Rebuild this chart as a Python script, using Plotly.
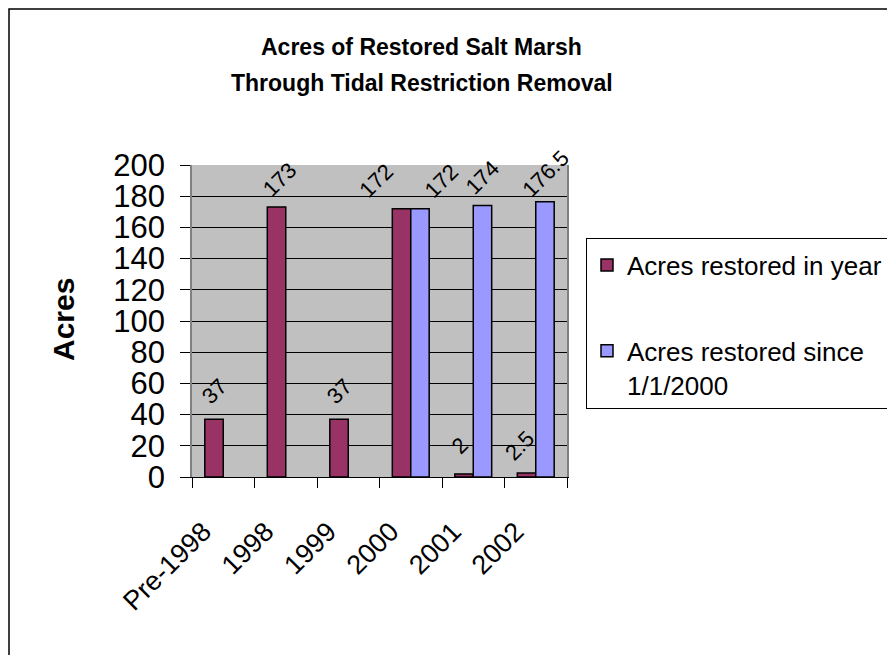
import plotly.graph_objects as go

categories = ["Pre-1998", "1998", "1999", "2000", "2001", "2002"]
in_year = [37, 173, 37, 172, 2, 2.5]
since_2000 = [None, None, None, 172, 174, 176.5]
in_year_labels = ["37", "173", "37", "172", "2", "2.5"]
since_labels = ["", "", "", "172", "174", "176.5"]
y_ticks = [0, 20, 40, 60, 80, 100, 120, 140, 160, 180, 200]

# label nudges (pixels) to mimic the original label placement
nudge_in_year = [0, 3, 0, -25, -4, -7]
nudge_since = [0, 0, 0, 22, 0, 1]

FONT = "Liberation Sans, Arial, sans-serif"
OFF = 8  # page body margin
W, H = 895 - OFF, 655 - OFF
# plot area in screen pixels of the reference
SL, SR, ST, SB = 192, 567, 165, 477
L, R, T, B = SL - OFF, SR - OFF, ST - OFF, SB - OFF


def px(x):
    """screen x -> paper x"""
    return (x - OFF - L) / (R - L)


def py(y):
    """screen y -> paper y"""
    return (B - (y - OFF)) / (B - T)


fig = go.Figure()
fig.add_trace(go.Bar(
    x=categories, y=in_year, name="Acres restored in year",
    marker=dict(color="#993366", line=dict(color="black", width=1.5)),
    legendgroup="a",
))
fig.add_trace(go.Bar(
    x=categories, y=since_2000, name="Acres restored since<br>1/1/2000",
    marker=dict(color="#9999FF", line=dict(color="black", width=1.5)),
    legendgroup="b",
))

annotations = [
    dict(text="<b>Acres of Restored Salt Marsh</b>", xref="paper", yref="paper",
         x=px(421), y=py(47), xanchor="center", yanchor="middle",
         showarrow=False, font=dict(family=FONT, size=23, color="black")),
    dict(text="<b>Through Tidal Restriction Removal</b>", xref="paper", yref="paper",
         x=px(422), y=py(83), xanchor="center", yanchor="middle",
         showarrow=False, font=dict(family=FONT, size=23, color="black")),
    dict(text="<b>Acres</b>", xref="paper", yref="paper",
         x=px(63), y=py(320), xanchor="center", yanchor="middle",
         textangle=-90, showarrow=False,
         font=dict(family=FONT, size=30, color="black")),
]

HALF = 9.2  # half bar width in px (grouped offset)
for vals, labels, nudges, side in (
    (in_year, in_year_labels, nudge_in_year, -1),
    (since_2000, since_labels, nudge_since, 1),
):
    for i, (v, lab, n) in enumerate(zip(vals, labels, nudges)):
        if v is None or not lab:
            continue
        annotations.append(dict(
            x=i, y=v, xref="x", yref="y", text=lab, showarrow=False,
            textangle=-45, xanchor="center", yanchor="middle",
            xshift=side * HALF + n, yshift=28,
            font=dict(family=FONT, size=22, color="black"),
        ))

fig.update_layout(
    width=W, height=H,
    margin=dict(l=L, r=W - R, t=T, b=H - B, pad=0, autoexpand=False),
    paper_bgcolor="white", plot_bgcolor="#C0C0C0",
    barmode="group", bargap=0.41, bargroupgap=0,
    font=dict(family=FONT, color="black"),
    showlegend=True,
    legend=dict(
        x=px(586), y=py(238), xanchor="left", yanchor="top",
        bgcolor="white", bordercolor="black", borderwidth=1,
        font=dict(family=FONT, size=26, color="black"),
        title=dict(text=" ", font=dict(size=2)),
        traceorder="grouped", tracegroupgap=49, valign="top",
    ),
    xaxis=dict(
        type="category", tickangle=-45, ticks="outside", ticklen=10,
        tickcolor="black", tickson="boundaries", showgrid=False,
        range=[-0.5, len(categories) - 0.5],
        tickfont=dict(family=FONT, size=27, color="black"),
        ticklabelstandoff=27, ticklabelshift=-20,
        showline=True, linecolor="black", linewidth=1, mirror=False,
        zeroline=False,
    ),
    yaxis=dict(
        range=[0, 200], tickvals=y_ticks, ticks="outside", ticklen=10,
        tickcolor="black", showgrid=True, gridcolor="black", gridwidth=1,
        tickfont=dict(family=FONT, size=31, color="black"),
        ticklabelstandoff=9,
        showline=True, linecolor="#808080", linewidth=1.5, mirror=True,
        zeroline=False,
    ),
    shapes=[
        dict(type="rect", xref="paper", yref="paper",
             x0=px(9), y0=py(9), x1=px(920), y1=py(680),
             line=dict(color="black", width=1.5), fillcolor="rgba(0,0,0,0)",
             layer="above"),
    ],
    annotations=annotations,
)

fig.write_html("out.html")
